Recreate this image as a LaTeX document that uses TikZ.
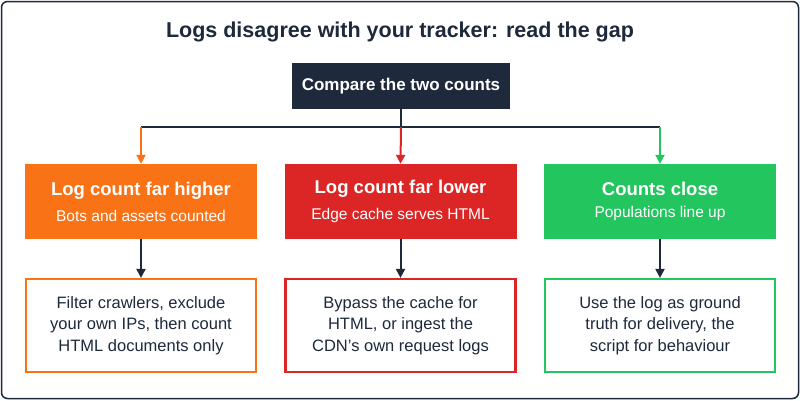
\documentclass[tikz,border=0pt]{standalone}
\usepackage{fontspec}
\setmainfont{Liberation Sans}
\usetikzlibrary{arrows.meta}
\definecolor{dk}{HTML}{1E293B}
\definecolor{orn}{HTML}{F97316}
\definecolor{rd}{HTML}{DC2626}
\definecolor{gr}{HTML}{22C55E}
\begin{document}
\begin{tikzpicture}[x=1pt,y=-1pt,
  mid/.style={minimum width=232pt,minimum height=75pt,text=white,align=center,inner sep=0pt},
  leaf/.style={draw=#1,line width=2.2pt,fill=white,minimum width=230pt,minimum height=93pt,align=center,inner sep=0pt,font=\fontsize{16.5}{21.5}\selectfont,text=dk},
  arr/.style={line width=2pt,-{Triangle[length=9pt,width=9pt]}}]
\useasboundingbox (0,0) rectangle (800,400);
\draw[dk,line width=1.5pt,fill=white,rounded corners=6pt] (1.5,1.5) rectangle (798.5,398.5);
\node[text=dk,font=\bfseries\fontsize{21.5}{25}\selectfont] (title) at (400,32) {Logs disagree with your tracker: read the gap};
\node[fill=dk,text=white,font=\bfseries\fontsize{17}{20}\selectfont,minimum width=218pt,minimum height=46pt,inner sep=0pt] (top) at (401,86) {Compare the two counts};
\node[mid,fill=orn] (a) at (141,201.5) {\textbf{\fontsize{18.5}{22}\selectfont Log count far higher}\\[10pt]{\fontsize{15.5}{18}\selectfont Bots and assets counted}};
\node[mid,fill=rd] (b) at (400.5,201.5) {\textbf{\fontsize{18.5}{22}\selectfont Log count far lower}\\[10pt]{\fontsize{15.5}{18}\selectfont Edge cache serves HTML}};
\node[mid,fill=gr] (c) at (660,201.5) {\textbf{\fontsize{18.5}{22}\selectfont Counts close}\\[10pt]{\fontsize{15.5}{18}\selectfont Populations line up}};
\node[leaf=orn] (la) at (141,325.5) {Filter crawlers, exclude\\your own IPs, then count\\HTML documents only};
\node[leaf=rd] (lb) at (400.5,325.5) {Bypass the cache for\\HTML, or ingest the\\CDN's own request logs};
\node[leaf=gr] (lc) at (660,325.5) {Use the log as ground\\truth for delivery, the\\script for behaviour};
\coordinate (j) at (401,127);
\coordinate (ja) at (141,127);
\coordinate (jc) at (660,127);
\draw[dk,line width=2pt] (top.south) -- (j);
\draw[dk,line width=2pt] (ja) -- (jc);
\draw[arr,orn] (ja) -- (a.north);
\draw[arr,rd] (j) -- (b.north);
\draw[arr,gr] (jc) -- (c.north);
\draw[arr,dk] (a.south) -- (la.north);
\draw[arr,dk] (b.south) -- (lb.north);
\draw[arr,dk] (c.south) -- (lc.north);
\end{tikzpicture}
\end{document}
